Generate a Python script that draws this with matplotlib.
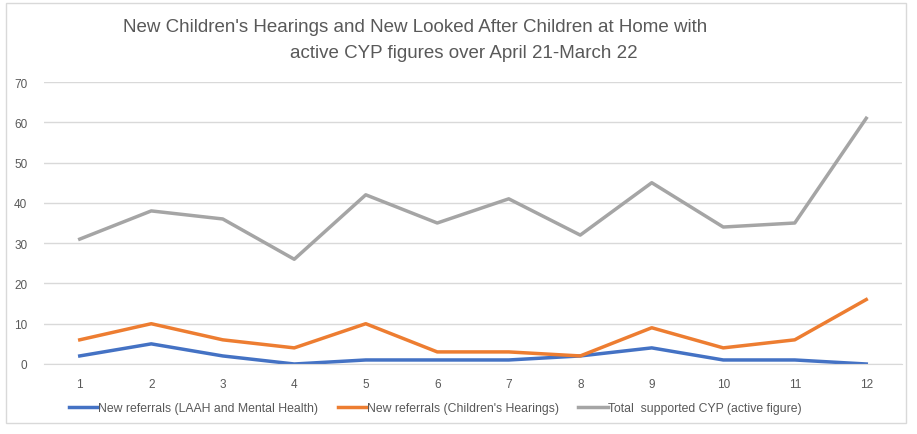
import matplotlib.pyplot as plt
from matplotlib.patches import Rectangle

months = [str(i) for i in range(1, 13)]
laah = [2, 5, 2, 0, 1, 1, 1, 2, 4, 1, 1, 0]
hearings = [6, 10, 6, 4, 10, 3, 3, 2, 9, 4, 6, 16]
total = [31, 38, 36, 26, 42, 35, 41, 32, 45, 34, 35, 61]

plt.rcParams['font.family'] = ['Liberation Sans', 'DejaVu Sans']
txt = '#595959'

fig = plt.figure(figsize=(9.17, 4.35), dpi=100)
W, H = 917, 435
ax = fig.add_axes([44 / W, 1 - 365 / H, 858 / W, (365 - 83) / H])

x = list(range(len(months)))
ax.plot(x, laah, color='#4472C4', lw=2.5, label='New referrals (LAAH and Mental Health)')
ax.plot(x, hearings, color='#ED7D31', lw=2.5, label="New referrals (Children's Hearings)")
ax.plot(x, total, color='#A5A5A5', lw=2.5, label='Total  supported CYP (active figure)')

ax.set_xlim(-0.5, len(months) - 0.5)
ax.set_ylim(0, 70)
ax.set_yticks(range(0, 71, 10))
ax.set_xticks(x)
ax.set_xticklabels(months)
ax.grid(axis='y', color='#D9D9D9', lw=1)
ax.set_axisbelow(True)
for s in ['top', 'right', 'left']:
    ax.spines[s].set_visible(False)
ax.spines['bottom'].set_color('#D9D9D9')
ax.tick_params(length=0, colors=txt, labelsize=8.5, pad=10)
ax.tick_params(axis='y', pad=12)

fig.text(123 / W, 1 - 28 / H, "New Children's Hearings and New Looked After Children at Home with",
         fontsize=13.5, color=txt, va='center', ha='left')
fig.text(290 / W, 1 - 54 / H, "active CYP figures over April 21-March 22",
         fontsize=13.5, color=txt, va='center', ha='left')

fig.legend(loc='center', bbox_to_anchor=(435 / W, 1 - 409 / H), ncol=3, frameon=False,
           fontsize=8.8, labelcolor=txt, handlelength=2.4, handletextpad=0.0, columnspacing=1.6)

fig.patches.append(Rectangle((6 / W, 1 - 424 / H), 900 / W, 420 / H, transform=fig.transFigure,
                             fill=False, edgecolor='#D9D9D9', lw=1))

fig.savefig('out.png', dpi=100)
